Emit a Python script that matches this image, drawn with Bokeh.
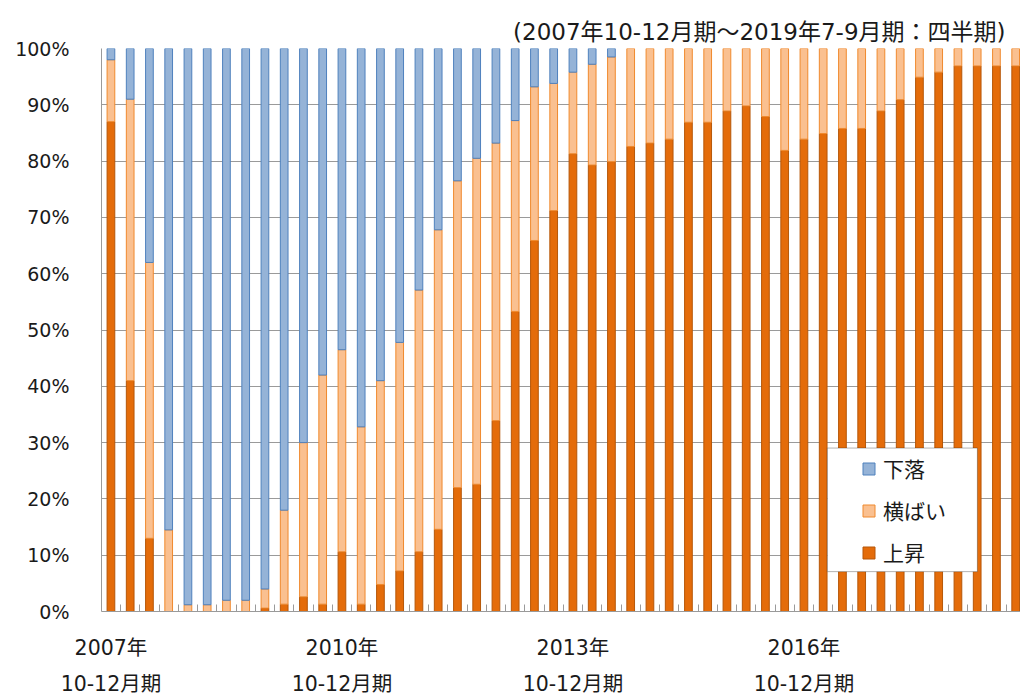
from bokeh.plotting import figure
from bokeh.models import (ColumnDataSource, FixedTicker, LinearAxis, Legend,
                          LegendItem, BoxAnnotation, Range1d)
from bokeh.embed import file_html
from bokeh.resources import INLINE

# ---------------- data ----------------
quarters = [
    "2007Q4",
    "2008Q1", "2008Q2", "2008Q3", "2008Q4",
    "2009Q1", "2009Q2", "2009Q3", "2009Q4",
    "2010Q1", "2010Q2", "2010Q3", "2010Q4",
    "2011Q1", "2011Q2", "2011Q3", "2011Q4",
    "2012Q1", "2012Q2", "2012Q3", "2012Q4",
    "2013Q1", "2013Q2", "2013Q3", "2013Q4",
    "2014Q1", "2014Q2", "2014Q3", "2014Q4",
    "2015Q1", "2015Q2", "2015Q3", "2015Q4",
    "2016Q1", "2016Q2", "2016Q3", "2016Q4",
    "2017Q1", "2017Q2", "2017Q3", "2017Q4",
    "2018Q1", "2018Q2", "2018Q3", "2018Q4",
    "2019Q1", "2019Q2", "2019Q3",
]
# 上昇 (rise)
rise = [87.0, 41.0, 13.0, 0.0, 0.0, 0.0, 0.0, 0.0, 0.6, 1.3, 2.6, 1.3,
        10.6, 1.3, 4.8, 7.2, 10.6, 14.6, 22.0, 22.6, 33.9, 53.3, 65.9, 71.2,
        81.3, 79.3, 79.9, 82.6, 83.2, 83.9, 86.9, 86.9, 88.9, 89.8, 87.9, 81.9,
        83.9, 84.9, 85.8, 85.8, 88.9, 90.9, 94.9, 95.8, 96.9, 96.9, 96.9, 96.9]
# 横ばい (flat)
flat = [11.0, 50.0, 49.0, 14.5, 1.2, 1.2, 2.0, 2.0, 3.4, 16.7, 27.4, 40.7,
        35.9, 31.5, 36.2, 40.6, 46.5, 53.2, 54.5, 57.9, 49.3, 33.9, 27.3, 22.6,
        14.5, 17.9, 18.6, 17.4, 16.8, 16.1, 13.1, 13.1, 11.1, 10.2, 12.1, 18.1,
        16.1, 15.1, 14.2, 14.2, 11.1, 9.1, 5.1, 4.2, 3.1, 3.1, 3.1, 3.1]
# 下落 (fall)
fall = [2.0, 9.0, 38.0, 85.5, 98.8, 98.8, 98.0, 98.0, 96.0, 82.0, 70.0, 58.0,
        53.5, 67.2, 59.0, 52.2, 42.9, 32.2, 23.5, 19.5, 16.8, 12.8, 6.8, 6.2,
        4.2, 2.8, 1.5, 0.0, 0.0, 0.0, 0.0, 0.0, 0.0, 0.0, 0.0, 0.0,
        0.0, 0.0, 0.0, 0.0, 0.0, 0.0, 0.0, 0.0, 0.0, 0.0, 0.0, 0.0]

series_names = ["上昇", "横ばい", "下落"]
year_tick_quarters = ["2007Q4", "2010Q4", "2013Q4", "2016Q4"]
year_tick_labels = ["2007年", "2010年", "2013年", "2016年"]
period_tick_label = "10-12月期"
y_ticks = [0, 10, 20, 30, 40, 50, 60, 70, 80, 90, 100]
title_text = "(2007年10-12月期～2019年7-9月期：四半期)"

# ---------------- build ----------------
x = list(range(len(quarters)))
b_flat = rise
t_flat = [r + f for r, f in zip(rise, flat)]
t_fall = [r + f + d for r, f, d in zip(rise, flat, fall)]

src = ColumnDataSource(dict(
    x=x, zero=[0] * len(x), rise_top=rise, flat_bot=b_flat, flat_top=t_flat,
    fall_bot=t_flat, fall_top=t_fall,
    la_rise=[1 if v > 0 else 0 for v in rise],
    la_flat=[1 if v > 0 else 0 for v in flat],
    la_fall=[1 if v > 0 else 0 for v in fall],
))

FONT = "'DejaVu Sans', 'Noto Sans CJK JP'"
TXT = "#1a1a1a"
GRID = "#9a9a9a"

p = figure(width=1020, height=698, output_backend="svg", toolbar_location=None,
           x_range=Range1d(-0.49, 47.25), y_range=Range1d(0, 100),
           min_border_left=101, min_border_right=0, min_border_top=48,
           min_border_bottom=85)
p.outline_line_color = None
p.background_fill_color = "white"

W = 0.4
r_rise = p.vbar(x="x", bottom="zero", top="rise_top", width=W, source=src,
                fill_color="#E46C0A", line_color="#B65708", line_alpha="la_rise")
r_flat = p.vbar(x="x", bottom="flat_bot", top="flat_top", width=W, source=src,
                fill_color="#FAC090", line_color="#F08A2E", line_alpha="la_flat")
r_fall = p.vbar(x="x", bottom="fall_bot", top="fall_top", width=W, source=src,
                fill_color="#95B3D7", line_color="#4F81BD", line_alpha="la_fall")

# title
p.title.text = title_text
p.title.align = "right"
p.title.offset = 15
p.title.standoff = 7
p.title.text_font = FONT
p.title.text_font_size = "23px"
p.title.text_font_style = "normal"
p.title.text_color = TXT

# y axis
yax = p.yaxis[0]
yax.ticker = FixedTicker(ticks=y_ticks)
yax.major_label_overrides = {v: f"{v}%" for v in y_ticks}
yax.major_tick_line_color = None
yax.minor_tick_line_color = None
yax.axis_line_color = GRID
yax.major_label_standoff = 26
yax.major_label_text_font = FONT
yax.major_label_text_font_size = "19px"
yax.major_label_text_color = TXT

p.ygrid.ticker = FixedTicker(ticks=y_ticks)
p.ygrid.grid_line_color = GRID
p.xgrid.visible = False

# x axis (year labels + boundary ticks)
tick_pos = [quarters.index(q) for q in year_tick_quarters]
xax = p.xaxis[0]
xax.ticker = FixedTicker(ticks=tick_pos,
                         minor_ticks=[i - 0.5 for i in range(len(quarters) + 1)])
xax.major_label_overrides = dict(zip(tick_pos, year_tick_labels))
xax.major_tick_line_color = None
xax.major_tick_in = 0
xax.major_tick_out = 0
xax.minor_tick_in = 7
xax.minor_tick_out = 0
xax.minor_tick_line_color = GRID
xax.axis_line_color = GRID
xax.major_label_standoff = 24
xax.major_label_text_font = FONT
xax.major_label_text_font_size = "20.5px"
xax.major_label_text_color = TXT

# second x axis (period labels)
xax2 = LinearAxis(ticker=FixedTicker(ticks=tick_pos),
                  major_label_overrides={t: period_tick_label for t in tick_pos},
                  axis_line_color=None, major_tick_line_color=None,
                  minor_tick_line_color=None, major_tick_in=0, major_tick_out=0,
                  major_label_standoff=9, major_label_text_font=FONT,
                  major_label_text_font_size="20.5px", major_label_text_color=TXT)
p.add_layout(xax2, "below")

# legend frame
box = BoxAnnotation(left=37.22, right=45.01, bottom=7.08, top=29.03,
                    fill_color="white", fill_alpha=1.0,
                    line_color="black", line_width=1)
p.add_layout(box)

legend = Legend(items=[LegendItem(label=series_names[2], renderers=[r_fall]),
                       LegendItem(label=series_names[1], renderers=[r_flat]),
                       LegendItem(label=series_names[0], renderers=[r_rise])],
                location=(760, 44), padding=11, spacing=12, label_height=20,
                glyph_width=15, glyph_height=15, label_standoff=7, margin=0,
                border_line_color=None, background_fill_alpha=0,
                label_text_font=FONT, label_text_font_size="21px",
                label_text_color=TXT)
p.add_layout(legend)

open("out.html", "w").write(file_html(p, INLINE))
